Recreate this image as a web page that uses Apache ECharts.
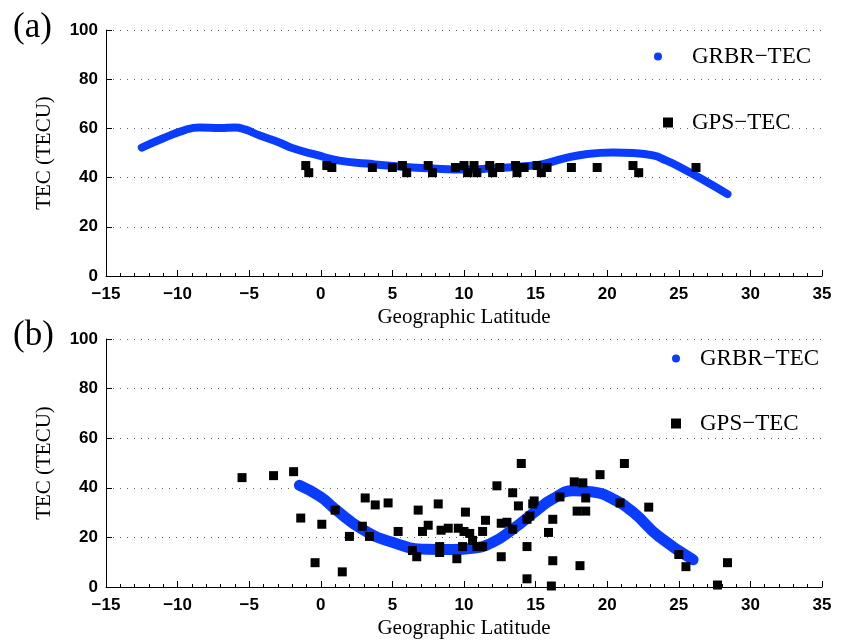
<!DOCTYPE html>
<html>
<head>
    <meta charset="utf-8">
    <title>GRBR-TEC vs GPS-TEC</title>
    <style type="text/css">
        body{ margin:0; background:#fff; }
        #main{ width:843px; height:640px; }
    </style>
    <script src="https://cdn.jsdelivr.net/npm/echarts@6/dist/echarts.min.js"></script>
</head>
<body>
    <div id="main"></div>
    <script type="text/javascript">
// panel (a): GRBR curve
var grbrLatA = [-12.5, -11.0, -9.5, -8.5, -7.0, -6.0, -5.3, -4.3, -2.9, -2.0, -0.3, 1.3, 3.2, 5.5, 7.8, 10.2, 12.0, 14.0, 15.5, 17.0, 18.5, 20.4, 21.8, 23.2, 24.1, 25.0, 26.9, 28.4];
var grbrTecA = [52.2, 56.0, 59.3, 60.4, 60.2, 60.4, 59.6, 57.2, 54.3, 52.0, 49.2, 46.9, 45.7, 44.5, 43.7, 43.3, 43.8, 44.5, 45.5, 47.8, 49.5, 50.2, 50.0, 49.0, 47.0, 44.5, 38.4, 33.3];
// panel (a): GPS points
var gpsLatA = [-1.05, -0.84, 0.42, 0.77, 3.6, 5.0, 5.7, 6.0, 7.5, 7.8, 9.4, 10.0, 10.25, 10.7, 10.9, 11.8, 12.0, 12.5, 13.6, 13.7, 14.2, 15.1, 15.4, 15.8, 17.5, 19.3, 21.8, 22.2, 26.2];
var gpsTecA = [44.9, 42.0, 44.9, 44.1, 44.1, 44.1, 44.9, 42.0, 44.9, 42.0, 44.1, 44.9, 42.0, 44.9, 42.0, 44.9, 42.0, 44.1, 44.9, 42.0, 44.1, 44.9, 42.0, 44.1, 44.1, 44.1, 44.9, 42.0, 44.1];

// panel (b): GRBR curve
var grbrLatB = [-1.5, 0.0, 1.0, 2.9, 5.0, 7.4, 9.2, 10.6, 12.0, 13.4, 15.1, 16.2, 17.6, 19.0, 20.4, 21.8, 23.6, 26.0];
var grbrTecB = [41.0, 36.3, 31.4, 23.3, 18.0, 15.2, 15.1, 15.6, 18.0, 23.3, 31.0, 35.5, 38.8, 38.3, 35.5, 30.2, 20.4, 11.0];
// panel (b): GPS points
var gpsLatB = [-5.5, -3.3, -1.9, -1.4, 0.07, -0.4, 1.0, 1.5, 2.0, 3.1, 2.9, 3.4, 3.8, 4.7, 5.4, 6.4, 6.7, 6.8, 7.1, 7.5, 8.2, 8.3, 8.3, 8.4, 8.9, 9.5, 9.6, 10.1, 9.9, 10.0, 10.4, 10.6, 10.9, 11.3, 11.3, 11.5, 12.3, 12.6, 12.6, 13.0, 13.4, 13.4, 13.8, 14.0, 14.4, 14.6, 14.8, 14.4, 14.4, 14.9, 15.9, 16.2, 16.2, 16.1, 16.7, 17.7, 18.3, 17.9, 18.5, 18.5, 18.1, 19.5, 21.2, 20.9, 22.9, 25.0, 25.5, 27.7, 28.4];
var gpsTecB = [44.1, 44.9, 46.5, 27.8, 25.3, 9.8, 31.0, 6.1, 20.4, 35.9, 24.5, 20.4, 33.1, 33.9, 22.4, 14.7, 12.2, 31.0, 22.4, 24.9, 33.5, 16.3, 13.9, 22.9, 23.7, 11.4, 23.7, 30.2, 16.3, 22.4, 21.6, 18.8, 16.3, 16.3, 22.4, 26.9, 40.8, 12.2, 25.7, 26.1, 38.0, 23.3, 32.7, 49.8, 27.3, 28.6, 33.5, 16.3, 3.3, 34.7, 22.0, 27.3, 10.6, 0.4, 36.3, 42.4, 42.0, 30.6, 30.6, 35.9, 8.6, 45.3, 49.8, 33.9, 32.2, 13.1, 8.2, 0.8, 9.8];

var latTicks = [-15, -10, -5, 0, 5, 10, 15, 20, 25, 30, 35];
var tecTicks = [0, 20, 40, 60, 80, 100];

function zip(a, b) {
    return a.map(function (v, i) { return [v, b[i]]; });
}

var BLUE = '#0a3cff';
var SERIF = 'Liberation Serif';
var SANS = 'Liberation Sans';

function xAxisFor(idx) {
    return {
        gridIndex: idx,
        type: 'value',
        min: latTicks[0], max: latTicks[latTicks.length - 1], interval: 5,
        name: 'Geographic Latitude',
        nameLocation: 'middle',
        nameGap: 31,
        nameTextStyle: { fontFamily: SERIF, fontSize: 21, color: '#000' },
        axisLine: { show: true, onZero: false, lineStyle: { color: '#000', width: 1 } },
        axisTick: { show: true, inside: true, length: 6, lineStyle: { color: '#000', width: 1 } },
        minorTick: { show: true, splitNumber: 5, length: 3, lineStyle: { color: '#000', width: 1 } },
        splitLine: { show: false },
        axisLabel: {
            margin: 10, fontFamily: SANS, fontWeight: 'bold', fontSize: 17, color: '#000',
            formatter: function (v) { return String(v).replace('-', '\u2212'); }
        }
    };
}

function yAxisFor(idx) {
    return {
        gridIndex: idx,
        type: 'value',
        min: tecTicks[0], max: tecTicks[tecTicks.length - 1], interval: 20,
        name: 'TEC (TECU)',
        nameLocation: 'middle',
        nameGap: 51,
        nameTextStyle: { fontFamily: SERIF, fontSize: 21, color: '#000' },
        axisLine: { show: true, onZero: false, lineStyle: { color: '#000', width: 1 } },
        axisTick: { show: true, inside: true, length: 6, lineStyle: { color: '#000', width: 1 } },
        splitLine: { show: true, lineStyle: { color: '#666', width: 1, type: [1, 6] } },
        axisLabel: { margin: 8, fontFamily: SANS, fontWeight: 'bold', fontSize: 17, color: '#000' }
    };
}

function legendItem(name, icon, size, left, top, pad) {
    return {
        left: left, top: top,
        itemWidth: size, itemHeight: size,
        data: [{ name: name, icon: icon }],
        textStyle: { fontFamily: SERIF, fontSize: 23, color: '#000', padding: [0, 0, 0, pad] }
    };
}

var myChart = echarts.init(document.getElementById('main'));

var option = {
    animation: false,
    title: [
        { text: '(a)', left: 8, top: 5, textStyle: { fontFamily: SERIF, fontSize: 35, fontWeight: 'normal', color: '#000' } },
        { text: '(b)', left: 8, top: 313, textStyle: { fontFamily: SERIF, fontSize: 35, fontWeight: 'normal', color: '#000' } }
    ],
    legend: [
        legendItem('GRBR\u2212TEC', 'circle', 8, 649, 40, 25),
        legendItem('GPS\u2212TEC', 'rect', 10, 658, 106, 14),
        legendItem('GRBR\u2212TEC', 'circle', 8, 667, 342, 15),
        legendItem('GPS\u2212TEC', 'rect', 10, 666, 407, 14)
    ],
    grid: [
        { left: 106, top: 30, width: 716, height: 246 },
        { left: 106, top: 339, width: 716, height: 248 }
    ],
    xAxis: [xAxisFor(0), xAxisFor(1)],
    yAxis: [yAxisFor(0), yAxisFor(1)],
    series: [
        {
            name: 'GRBR\u2212TEC', type: 'line', xAxisIndex: 0, yAxisIndex: 0,
            smooth: 0.5, showSymbol: false, z: 2,
            lineStyle: { color: BLUE, width: 8, cap: 'round' },
            itemStyle: { color: BLUE },
            data: zip(grbrLatA, grbrTecA)
        },
        {
            name: 'GPS\u2212TEC', type: 'scatter', xAxisIndex: 0, yAxisIndex: 0,
            symbol: 'rect', symbolSize: 9, z: 3,
            itemStyle: { color: '#000', opacity: 1 },
            data: zip(gpsLatA, gpsTecA)
        },
        {
            name: 'GRBR\u2212TEC', type: 'line', xAxisIndex: 1, yAxisIndex: 1,
            smooth: 0.5, showSymbol: false, z: 2,
            lineStyle: { color: BLUE, width: 11, cap: 'round' },
            itemStyle: { color: BLUE },
            data: zip(grbrLatB, grbrTecB)
        },
        {
            name: 'GPS\u2212TEC', type: 'scatter', xAxisIndex: 1, yAxisIndex: 1,
            symbol: 'rect', symbolSize: 9, z: 3,
            itemStyle: { color: '#000', opacity: 1 },
            data: zip(gpsLatB, gpsTecB)
        }
    ]
};

myChart.setOption(option);
    </script>
</body>
</html>
